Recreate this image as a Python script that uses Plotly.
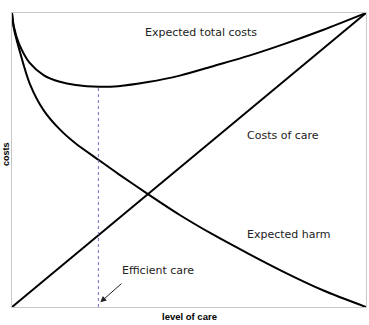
import plotly.graph_objects as go

# Data (normalized level of care / costs)
care_level = [0, 0.005, 0.02, 0.05, 0.09, 0.135, 0.18, 0.245, 0.3, 0.384, 0.474, 0.57, 0.67, 0.77, 0.88, 1.0]
expected_harm = [1.0, 0.95, 0.878, 0.76, 0.668, 0.604, 0.556, 0.5, 0.453, 0.384, 0.313, 0.245, 0.18, 0.118, 0.056, 0.0]
expected_total = [1.0, 0.955, 0.895, 0.83, 0.788, 0.766, 0.755, 0.749, 0.751, 0.765, 0.787, 0.82, 0.855, 0.895, 0.943, 1.0]
care_cost_x = [0, 1]
care_cost_y = [0, 1]
efficient_x = 0.244
efficient_cost = 0.749

labels = {
    "total": "Expected total costs",
    "care": "Costs of care",
    "harm": "Expected harm",
    "efficient": "Efficient care",
}

curve = dict(color="black", width=2, shape="spline", smoothing=0.8)
fig = go.Figure()
fig.add_trace(go.Scatter(x=care_level, y=expected_total, mode="lines", line=curve))
fig.add_trace(go.Scatter(x=care_level, y=expected_harm, mode="lines", line=curve))
fig.add_trace(go.Scatter(x=care_cost_x, y=care_cost_y, mode="lines",
                         line=dict(color="black", width=2)))
fig.add_trace(go.Scatter(x=[efficient_x, efficient_x], y=[0, efficient_cost], mode="lines",
                         line=dict(color="#7070c0", width=1, dash="dot")))

txt = dict(family="DejaVu Sans", size=11, color="#222222")
fig.add_annotation(x=0.533, y=0.934, text=labels["total"], showarrow=False, font=txt)
fig.add_annotation(x=0.765, y=0.585, text=labels["care"], showarrow=False, font=txt)
fig.add_annotation(x=0.782, y=0.245, text=labels["harm"], showarrow=False, font=txt)
fig.add_annotation(x=0.305, y=0.123, text=labels["efficient"], showarrow=False, font=txt,
                   xanchor="left")
fig.add_annotation(x=0.2495, y=0.016, ax=22.6, ay=-20, text="", showarrow=True,
                   arrowhead=2, arrowsize=1.2, arrowwidth=1, arrowcolor="#222222")

axis_font = dict(family="Arial", size=9.5, color="black")
fig.add_annotation(xref="paper", yref="paper", x=0.5, y=-0.033, text="<b>level of care</b>",
                   showarrow=False, font=axis_font, yanchor="middle")
fig.add_annotation(xref="paper", yref="paper", x=-0.017, y=0.52, text="<b>costs</b>",
                   showarrow=False, font=dict(family="Arial", size=9, color="black"),
                   textangle=-90, xanchor="center", borderpad=0)

ax = dict(range=[0, 1], showgrid=False, zeroline=False, showticklabels=False, ticks="",
          showline=True, linecolor="#c8c8c8", linewidth=1, mirror=True)
fig.update_xaxes(**ax)
fig.update_yaxes(**ax)
fig.update_layout(width=369, height=325, showlegend=False,
                  margin=dict(l=12, r=3, t=13, b=18),
                  plot_bgcolor="white", paper_bgcolor="white")
fig.write_html("out.html")
